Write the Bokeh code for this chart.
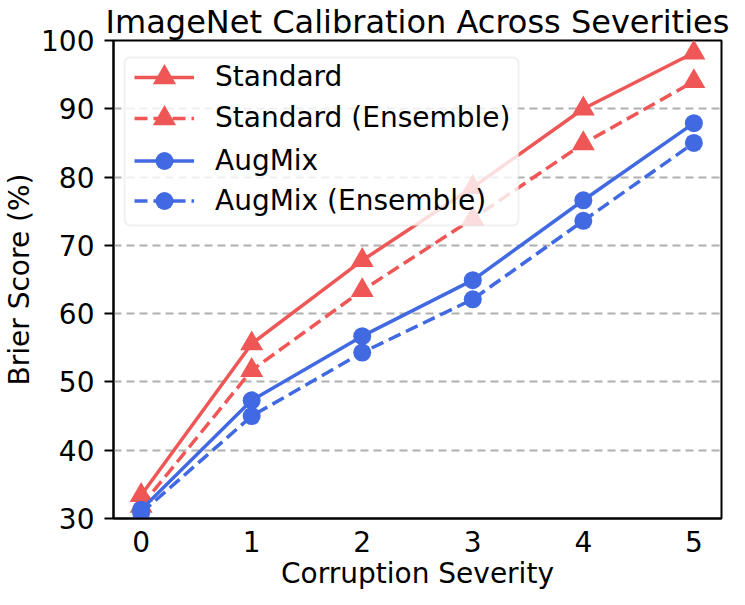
from bokeh.plotting import figure
from bokeh.models import Range1d, FixedTicker, Legend, LegendItem, BoxAnnotation, Title
from bokeh.embed import file_html
from bokeh.resources import INLINE

severity = [0, 1, 2, 3, 4, 5]
standard = [33.4, 55.6, 67.8, 78.5, 90.0, 98.2]
standard_ens = [31.8, 51.7, 63.4, 73.9, 84.9, 94.0]
augmix = [31.3, 47.3, 56.7, 64.9, 76.6, 87.9]
augmix_ens = [30.8, 45.0, 54.3, 62.1, 73.6, 85.0]

x_ticks = [0, 1, 2, 3, 4, 5]
y_ticks = [30, 40, 50, 60, 70, 80, 90, 100]

RED = "#EF5656"
BLUE = "#4169E1"
FONT = "DejaVu Sans"

W, H = 729, 589

p = figure(width=W, height=H, output_backend="svg", toolbar_location=None,
           x_range=Range1d(-0.25, 5.25), y_range=Range1d(30, 100),
           title="ImageNet Calibration Across Severities",
           min_border_left=102, min_border_right=8,
           min_border_top=34, min_border_bottom=66)

p.title.text_font = FONT
p.title.text_font_size = "32px"
p.title.text_font_style = "normal"
p.title.text_color = "black"
p.title.align = "center"
p.title.standoff = 0
p.title.offset = 0
p.title.text_line_height = 1.05

p.outline_line_color = "black"
p.outline_line_width = 2
p.outline_line_alpha = 1.0

p.xgrid.visible = False
p.ygrid.ticker = FixedTicker(ticks=y_ticks)
p.ygrid.grid_line_color = "#b0b0b0"
p.ygrid.grid_line_width = 2
p.ygrid.grid_line_dash = "8 5"

for ax in (p.xaxis[0], p.yaxis[0]):
    ax.axis_line_color = "black"
    ax.axis_line_width = 2
    ax.major_label_text_font = FONT
    ax.major_label_text_font_size = "28px"
    ax.major_label_text_color = "black"
    ax.axis_label_text_font = FONT
    ax.axis_label_text_font_size = "28px"
    ax.axis_label_text_font_style = "normal"
    ax.axis_label_text_color = "black"
    ax.minor_tick_line_color = None

p.xaxis.ticker = FixedTicker(ticks=x_ticks)
p.xaxis.major_tick_line_color = None
p.xaxis.major_tick_out = 0
p.xaxis.major_tick_in = 0
p.xaxis.major_label_standoff = 12

p.yaxis.ticker = FixedTicker(ticks=y_ticks)
p.yaxis.major_tick_line_color = "black"
p.yaxis.major_tick_line_width = 2
p.yaxis.major_tick_out = 9
p.yaxis.major_tick_in = 0
p.yaxis.major_label_standoff = 10
p.yaxis.axis_label = "Brier Score (%)"
p.yaxis.axis_label_standoff = 2

# x axis label as a title in the bottom panel (keeps its box tight)
xlabel = Title(text="Corruption Severity", align="center", text_font=FONT,
               text_font_size="28px", text_font_style="normal", text_color="black",
               standoff=0, offset=0, text_line_height=1.0)
p.add_layout(xlabel, "below")

series = [
    ("Standard", standard, RED, "solid", "triangle", 23),
    ("Standard (Ensemble)", standard_ens, RED, "13 6", "triangle", 23),
    ("AugMix", augmix, BLUE, "solid", "circle", 18),
    ("AugMix (Ensemble)", augmix_ens, BLUE, "13 6", "circle", 18),
]

renderers = []
for name, ys, color, dash, marker, size in series:
    l = p.line(severity, ys, line_color=color, line_width=3.5, line_dash=dash)
    s = p.scatter(severity, ys, marker=marker, size=size, fill_color=color,
                  line_color=color, line_width=0)
    renderers.append((name, l, s, size))

# legend frame, in screen px measured from the plot frame's bottom-left corner
legend_box = BoxAnnotation(left=11, right=405, top=461, bottom=293,
                           left_units="screen", right_units="screen",
                           top_units="screen", bottom_units="screen",
                           fill_color="white", fill_alpha=0.8,
                           line_color="#cccccc", line_width=2, border_radius=6,
                           editable=False)
p.add_layout(legend_box)

# one legend per entry, so each row can hold a full-size marker
row_heights = [441, 400, 358, 318]   # row centres above the frame bottom, px
for (name, l, s, size), cy in zip(renderers, row_heights):
    gh = size / 0.4
    lg = Legend(items=[LegendItem(label=name, renderers=[l, s])],
                location=(21, cy - gh / 2))
    lg.padding = 0
    lg.spacing = 0
    lg.margin = 0
    lg.glyph_width = 60
    lg.glyph_height = int(round(gh))
    lg.label_height = 34
    lg.label_standoff = 21
    lg.label_text_font = FONT
    lg.label_text_font_size = "28px"
    lg.label_text_color = "black"
    lg.border_line_color = None
    lg.background_fill_alpha = 0.0
    p.add_layout(lg, "center")

open("out.html", "w").write(file_html(p, INLINE))
